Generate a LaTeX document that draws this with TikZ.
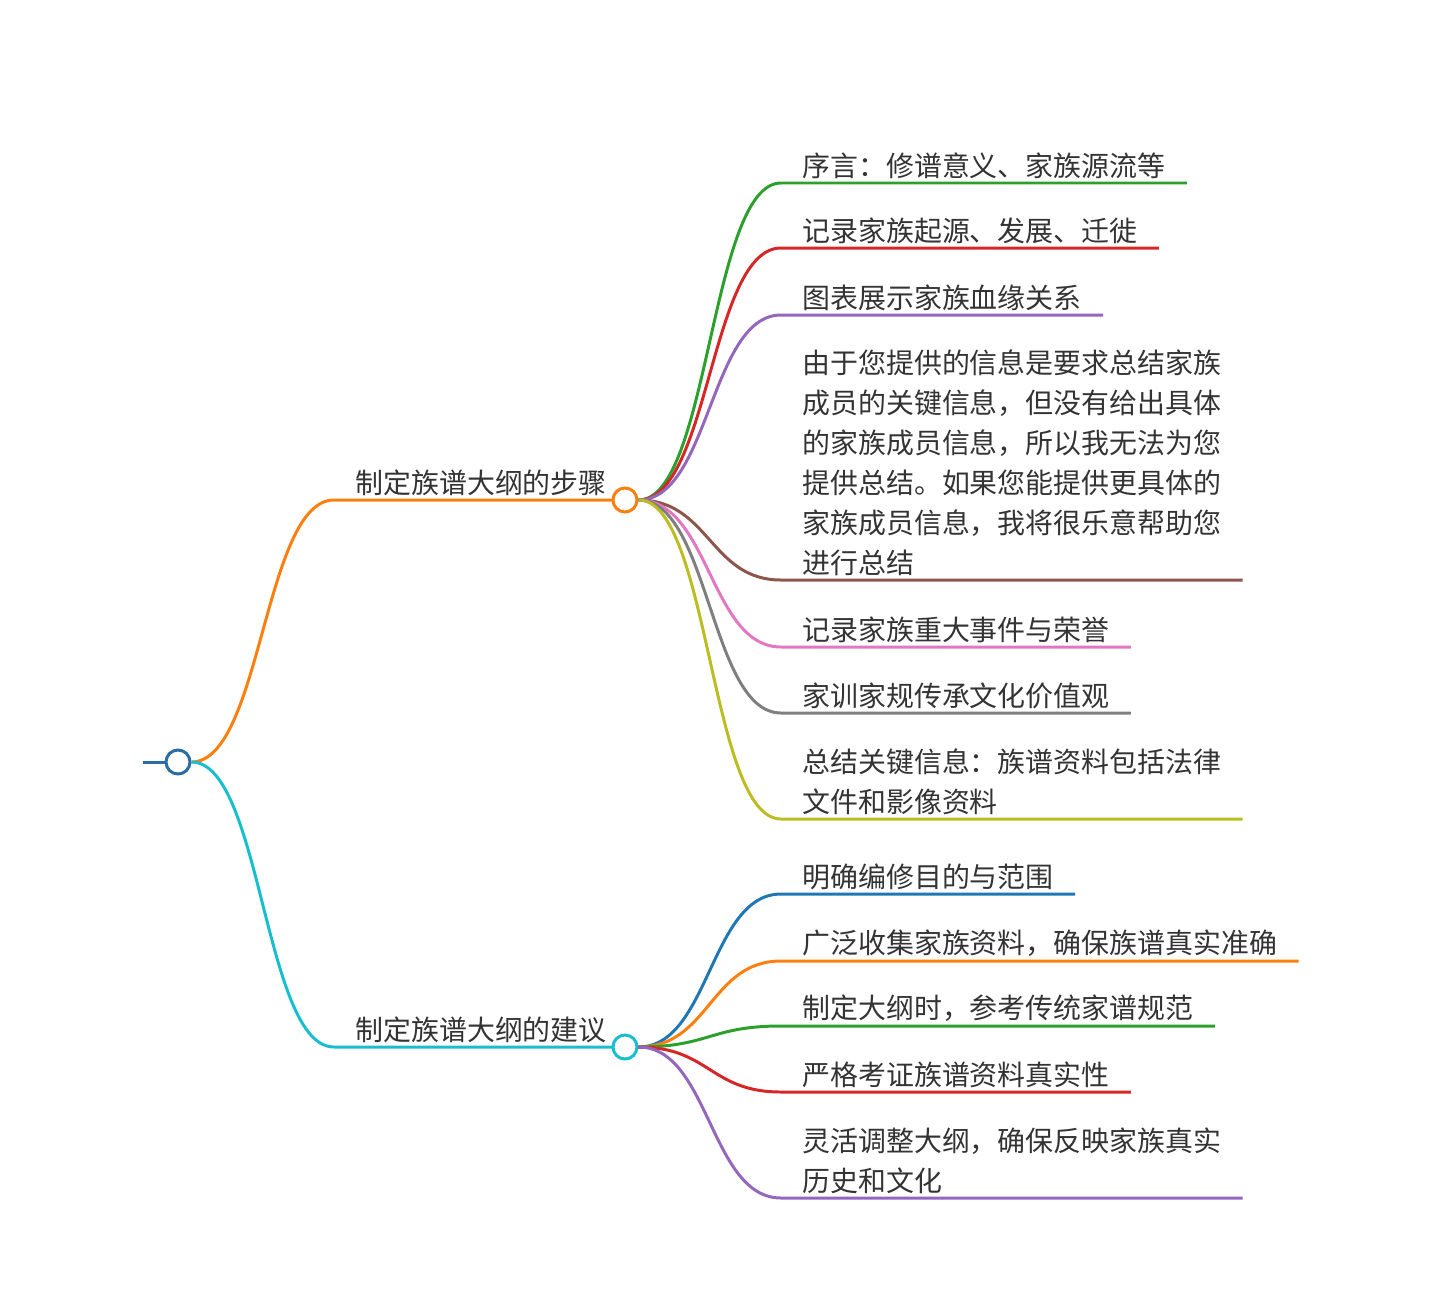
\documentclass[tikz,border=0pt]{standalone}
\usepackage{fontspec}
\setmainfont{Noto Sans CJK SC}
\usetikzlibrary{positioning}
\definecolor{rootblue}{HTML}{2B6CA3}
\definecolor{cblue}{HTML}{1F77B4}
\definecolor{corange}{HTML}{FF7F0E}
\definecolor{ccyan}{HTML}{17BECF}
\definecolor{cgreen}{HTML}{2CA02C}
\definecolor{cred}{HTML}{D62728}
\definecolor{cpurple}{HTML}{9467BD}
\definecolor{cbrown}{HTML}{8C564B}
\definecolor{cpink}{HTML}{E377C2}
\definecolor{cgray}{HTML}{7F7F7F}
\definecolor{colive}{HTML}{BCBD22}
\definecolor{txt}{HTML}{333333}

\begin{document}
\begin{tikzpicture}[
  x=0.02cm, y=-0.02cm,
  dot/.style={draw, circle, line width=1.7pt, fill=white, minimum size=0.48cm, inner sep=0pt},
  leaf/.style={anchor=south west, align=left, inner xsep=0.42cm, inner ysep=0.08cm, text=txt, font=\fontsize{15.9pt}{22.7pt}\selectfont},
  link/.style={line width=1.7pt}
]
  \useasboundingbox (0,0) rectangle (1440,1309);

  \coordinate (start) at (143,762);
  \node[dot, draw=rootblue] (root)   at (178,762)  {};
  \node[leaf] (stepslbl)  at (334,500)  {制定族谱大纲的步骤};
  \node[leaf] (advicelbl) at (334,1047) {制定族谱大纲的建议};

  \node[leaf] (s1) at (781,183) {序言：修谱意义、家族源流等};
  \node[leaf] (s2) at (781,248) {记录家族起源、发展、迁徙};
  \node[leaf] (s3) at (781,315) {图表展示家族血缘关系};
  \node[leaf] (s4) at (781,580) {由于您提供的信息是要求总结家族\\成员的关键信息，但没有给出具体\\的家族成员信息，所以我无法为您\\提供总结。如果您能提供更具体的\\家族成员信息，我将很乐意帮助您\\进行总结};
  \node[leaf] (s5) at (781,647) {记录家族重大事件与荣誉};
  \node[leaf] (s6) at (781,713) {家训家规传承文化价值观};
  \node[leaf] (s7) at (781,819) {总结关键信息：族谱资料包括法律\\文件和影像资料};

  \node[leaf] (a1) at (781,894)  {明确编修目的与范围};
  \node[leaf] (a2) at (781,961)  {广泛收集家族资料，确保族谱真实准确};
  \node[leaf] (a3) at (781,1026) {制定大纲时，参考传统家谱规范};
  \node[leaf] (a4) at (781,1092) {严格考证族谱资料真实性};
  \node[leaf] (a5) at (781,1198) {灵活调整大纲，确保反映家族真实\\历史和文化};

  \draw[link, rootblue] (start) -- (root.west);
  \draw[link, corange] (root.east) .. controls +(70,0) and +(-70,0) .. (stepslbl.south west) -- (625,500);
  \draw[link, ccyan] (root.east) .. controls +(70,0) and +(-70,0) .. (advicelbl.south west) -- (625,1047);

  \node[dot, draw=corange] (steps)  at (625,500)  {};
  \node[dot, draw=ccyan]   (advice) at (625,1047) {};

  \draw[link, cgreen]  (steps.east) .. controls +(71,0) and +(-71,0) .. (s1.south west) -- (s1.south east);
  \draw[link, cred]    (steps.east) .. controls +(71,0) and +(-71,0) .. (s2.south west) -- (s2.south east);
  \draw[link, cpurple] (steps.east) .. controls +(71,0) and +(-71,0) .. (s3.south west) -- (s3.south east);
  \draw[link, cbrown]  (steps.east) .. controls +(71,0) and +(-71,0) .. (s4.south west) -- (s4.south east);
  \draw[link, cpink]   (steps.east) .. controls +(71,0) and +(-71,0) .. (s5.south west) -- (s5.south east);
  \draw[link, cgray]   (steps.east) .. controls +(71,0) and +(-71,0) .. (s6.south west) -- (s6.south east);
  \draw[link, colive]  (steps.east) .. controls +(71,0) and +(-71,0) .. (s7.south west) -- (s7.south east);

  \draw[link, cblue]   (advice.east) .. controls +(71,0) and +(-71,0) .. (a1.south west) -- (a1.south east);
  \draw[link, corange] (advice.east) .. controls +(71,0) and +(-71,0) .. (a2.south west) -- (a2.south east);
  \draw[link, cgreen]  (advice.east) .. controls +(71,0) and +(-71,0) .. (a3.south west) -- (a3.south east);
  \draw[link, cred]    (advice.east) .. controls +(71,0) and +(-71,0) .. (a4.south west) -- (a4.south east);
  \draw[link, cpurple] (advice.east) .. controls +(71,0) and +(-71,0) .. (a5.south west) -- (a5.south east);
\end{tikzpicture}
\end{document}
